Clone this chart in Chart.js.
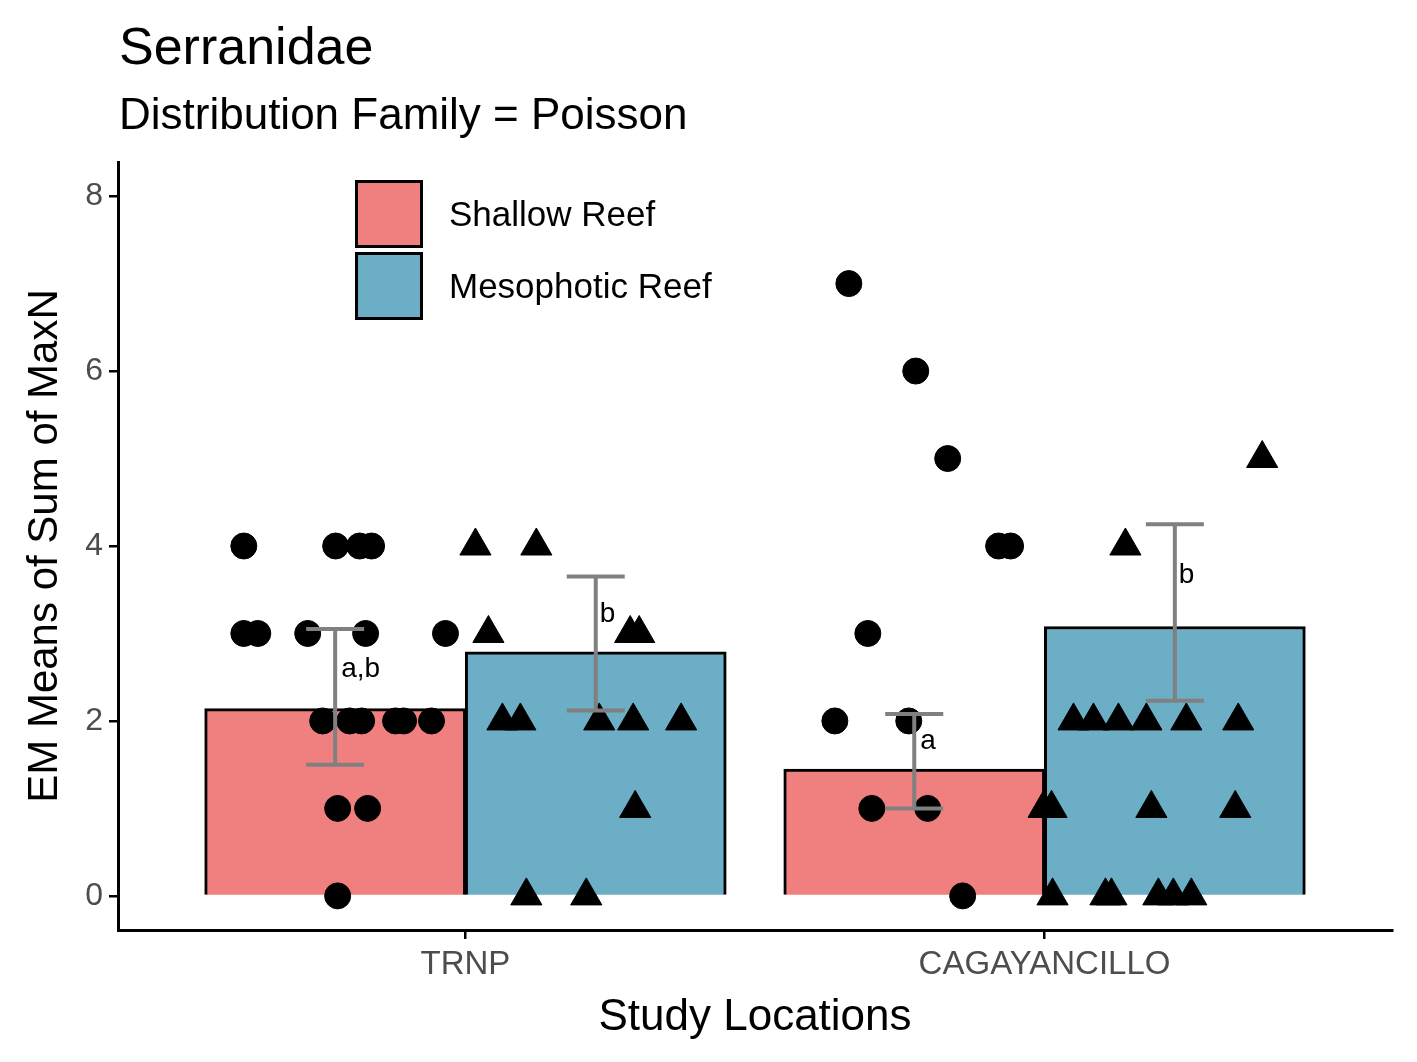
<!DOCTYPE html>
<html><head><meta charset="utf-8">
<script src="https://cdn.jsdelivr.net/npm/chart.js@4"></script>
<style>
body{margin:0;background:#fff;font-family:Arial,"Liberation Sans",sans-serif}
#wrap{position:relative;width:1417px;height:1062px}
.t{position:absolute;color:#000;white-space:nowrap}
.sw{position:absolute;width:68px;height:68px;border:3px solid #000;box-sizing:border-box}
</style></head><body>
<div id="wrap">
<canvas id="c" width="1417" height="1062"></canvas>
<div class="t" style="left:119px;top:16px;font-size:52px">Serranidae</div>
<div class="t" style="left:119px;top:89px;font-size:44px">Distribution Family = Poisson</div>
<div class="sw" style="left:355px;top:180px;background:#F08080"></div>
<div class="sw" style="left:355px;top:252px;background:#6BAEC6"></div>
<div class="t" style="left:449px;top:194px;font-size:35px">Shallow Reef</div>
<div class="t" style="left:449px;top:266px;font-size:35px">Mesophotic Reef</div>
</div>
<script>
const categories = ["TRNP", "CAGAYANCILLO"];
const shallowMeans = [2.14, 1.45];
const mesoMeans = [2.79, 3.08];
const shallowLow = [1.50, 1.00], shallowHigh = [3.05, 2.08];
const mesoLow = [2.12, 2.23], mesoHigh = [3.65, 4.25];
const shallowLetters = ["a,b", "a"];
const mesoLetters = ["b", "b"];
// raw observations: [category index, jitter (px offset from category centre, /580), value]
const shallowObs = [
  [0,-222,4],[0,-130,4],[0,-106,4],[0,-94,4],[0,-222,3],[0,-208,3],[0,-158,3],[0,-100,3],[0,-20,3],
  [0,-143,2],[0,-116,2],[0,-104,2],[0,-70,2],[0,-62,2],[0,-34,2],[0,-128,1],[0,-98,1],[0,-128,0],
  [1,-196,7],[1,-129,6],[1,-97,5],[1,-46,4],[1,-34,4],[1,-177,3],[1,-210,2],[1,-136,2],[1,-173,1],[1,-117,1],[1,-82,0]
];
const mesoObs = [
  [0,10,4],[0,71,4],[0,23,3],[0,37,2],[0,55,2],[0,61,0],[0,121,0],[0,134,2],[0,168,2],[0,216,2],[0,165,3],[0,174,3],[0,170,1],
  [1,218,5],[1,81,4],[1,29,2],[1,49,2],[1,74,2],[1,102,2],[1,142,2],[1,194,2],[1,-1,1],[1,7,1],[1,107,1],[1,191,1],
  [1,8,0],[1,61,0],[1,67,0],[1,114,0],[1,129,0],[1,147,0]
];
const off = 0.225;
const toPts = obs => obs.map(o => ({x: o[0] + 1 + o[1] / 580, y: o[2]}));

const overlay = {
  id: 'overlay',
  afterDatasetsDraw(chart) {
    const ctx = chart.ctx, xs = chart.scales.x, ys = chart.scales.y;
    ctx.save();
    ctx.strokeStyle = '#808080'; ctx.lineWidth = 4;
    const eb = (cx, lo, hi) => {
      const x = xs.getPixelForValue(cx), y1 = ys.getPixelForValue(lo), y2 = ys.getPixelForValue(hi);
      ctx.beginPath();
      ctx.moveTo(x, y1); ctx.lineTo(x, y2);
      ctx.moveTo(x - 29, y1); ctx.lineTo(x + 29, y1);
      ctx.moveTo(x - 29, y2); ctx.lineTo(x + 29, y2);
      ctx.stroke();
    };
    ctx.fillStyle = '#000'; ctx.font = '28px Arial'; ctx.textBaseline = 'middle';
    categories.forEach((c, i) => {
      eb(i + 1 - off, shallowLow[i], shallowHigh[i]);
      eb(i + 1 + off, mesoLow[i], mesoHigh[i]);
    });
    categories.forEach((c, i) => {
      ctx.fillText(shallowLetters[i], xs.getPixelForValue(i + 1 - off) + 6, ys.getPixelForValue((shallowMeans[i] + shallowHigh[i]) / 2));
      ctx.fillText(mesoLetters[i], xs.getPixelForValue(i + 1 + off) + 4, ys.getPixelForValue((mesoMeans[i] + mesoHigh[i]) / 2));
    });
    ctx.restore();
  }
};

new Chart(document.getElementById('c'), {
  data: {
    datasets: [
      {type: 'bar', data: shallowMeans.map((v, i) => ({x: i + 1 - off, y: v})), backgroundColor: '#F08080',
       borderColor: '#000', borderWidth: 3, barThickness: 261, grouped: false, order: 3},
      {type: 'bar', data: mesoMeans.map((v, i) => ({x: i + 1 + off, y: v})), backgroundColor: '#6BAEC6',
       borderColor: '#000', borderWidth: 3, barThickness: 261, grouped: false, order: 3},
      {type: 'scatter', data: toPts(shallowObs), pointStyle: 'circle', pointRadius: 13,
       backgroundColor: '#000', borderColor: '#000', order: 1},
      {type: 'scatter', data: toPts(mesoObs), pointStyle: 'triangle', pointRadius: 18,
       backgroundColor: '#000', borderColor: '#000', order: 1}
    ]
  },
  options: {
    responsive: false, animation: false,
    layout: {padding: {top: 162, right: 25, left: 16, bottom: 14}},
    plugins: {legend: {display: false}, tooltip: {enabled: false}},
    scales: {
      x: {
        type: 'linear', min: 0.4, max: 2.6, offset: false,
        afterFit: s => { s.height = 118; },
        afterBuildTicks: s => { s.ticks = [{value: 1}, {value: 2}]; },
        ticks: {callback: v => categories[v - 1], color: '#4d4d4d', font: {size: 33, family: 'Arial'}, padding: 6, maxRotation: 0},
        grid: {offset: false, drawOnChartArea: false, tickLength: 9, color: '#000', lineWidth: 2.5},
        border: {color: '#000', width: 3},
        title: {display: true, text: 'Study Locations', color: '#000', font: {size: 44, family: 'Arial'}, padding: {top: 0}}
      },
      y: {
        min: -0.39, max: 8.39,
        afterFit: s => { s.width = 102; },
        afterBuildTicks: s => { s.ticks = [0, 2, 4, 6, 8].map(v => ({value: v})); },
        ticks: {color: '#4d4d4d', font: {size: 32, family: 'Arial'}, padding: 6},
        grid: {drawOnChartArea: false, tickLength: 9, color: '#000', lineWidth: 2.5},
        border: {color: '#000', width: 3},
        title: {display: true, text: 'EM Means of Sum of MaxN', color: '#000', font: {size: 42, family: 'Arial'}, padding: {bottom: 4}}
      }
    }
  },
  plugins: [overlay]
});
</script>
</body></html>
